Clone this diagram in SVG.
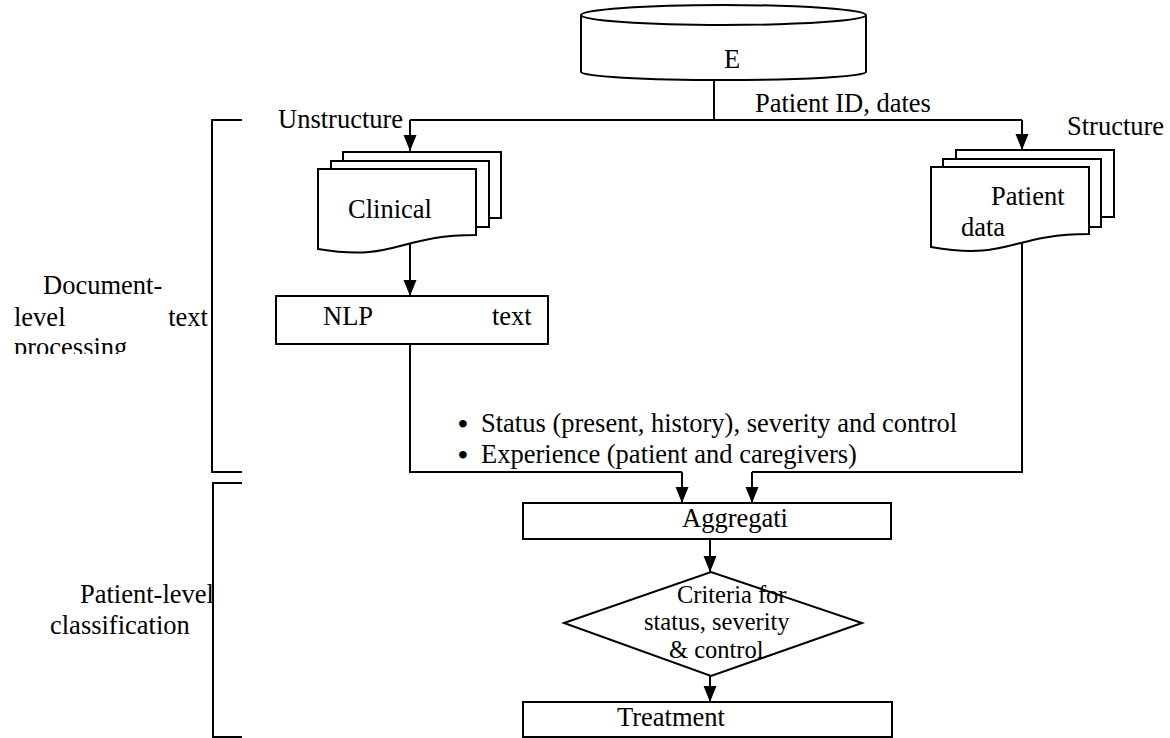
<svg xmlns="http://www.w3.org/2000/svg" width="1170" height="738" viewBox="0 0 1170 738">
<defs>
<marker id="arr" markerUnits="userSpaceOnUse" markerWidth="16" markerHeight="16" viewBox="0 0 16 16" refX="16" refY="8" orient="auto">
<path d="M0,1.5 L16,8 L0,14.5 Z" fill="#000"/>
</marker>
<clipPath id="clipProc"><rect x="0" y="330" width="220" height="24"/></clipPath>
</defs>
<style>
.s{fill:#fff;stroke:#000;stroke-width:2}
.c{fill:none;stroke:#000;stroke-width:2}
.ca{fill:none;stroke:#000;stroke-width:2;marker-end:url(#arr)}
.t{font-family:"Liberation Serif","Times New Roman",serif;font-size:26.5px;fill:#000}
.b{font-family:"Liberation Serif","Times New Roman",serif;font-size:28px;fill:#000;font-weight:bold}
.d{font-family:"Liberation Serif","Times New Roman",serif;font-size:24.5px;fill:#000}
</style>
<rect width="1170" height="738" fill="#fff"/>

<g id="connectors">
<path class="c" d="M714,80 V120"/>
<path class="c" d="M410,120 H1022"/>
<path class="ca" d="M410,120 V151"/>
<path class="ca" d="M1022,120 V150"/>
<path class="ca" d="M410,243 V296"/>
<path class="c" d="M410,344 V472 H682"/>
<path class="ca" d="M682,472 V503"/>
<path class="c" d="M1022,240 V472 H752"/>
<path class="ca" d="M752,472 V503"/>
<path class="ca" d="M710,539 V572"/>
<path class="ca" d="M710,676 V702"/>
</g>

<g id="database">
<path class="s" d="M581,15 V72 A142.5,8 0 0 0 866,72 V15"/>
<ellipse class="s" cx="723.5" cy="15" rx="142.5" ry="10"/>
<text class="t" x="724" y="68">E</text>
</g>

<g id="label-patient-id"><text class="t" x="755" y="112">Patient ID, dates</text></g>
<g id="label-unstructure"><text class="t" x="278" y="128">Unstructure</text></g>
<g id="label-structure"><text class="t" x="1067" y="135">Structure</text></g>

<g id="clinical">
<rect class="s" x="343" y="152" width="158" height="66"/>
<rect class="s" x="331" y="161" width="158" height="66"/>
<path class="s" d="M318,169 H476 V235 C397,235 397,262 318,249 Z"/>
<text class="t" x="348" y="218">Clinical</text>
</g>

<g id="patient-data">
<rect class="s" x="956" y="150" width="158" height="67"/>
<rect class="s" x="943" y="159" width="158" height="68"/>
<path class="s" d="M931,167 H1089 V234 C1010,234 1010,261 931,247 Z"/>
<text class="t" x="991" y="205">Patient</text>
<text class="t" x="961" y="236">data</text>
</g>

<g id="nlp">
<rect class="s" x="276" y="296" width="272" height="48"/>
<text class="t" x="323" y="325">NLP</text>
<text class="t" x="492" y="325">text</text>
</g>

<g id="outputs">
<text class="b" x="463" y="433" text-anchor="middle">•</text>
<text class="t" x="481" y="432">Status (present, history), severity and control</text>
<text class="b" x="463" y="464" text-anchor="middle">•</text>
<text class="t" x="481" y="463">Experience (patient and caregivers)</text>
</g>

<g id="aggregation">
<rect class="s" x="523" y="503" width="368" height="36"/>
<text class="t" x="682" y="527">Aggregati</text>
</g>

<g id="criteria">
<path class="s" d="M564,623 L711,572 L862,623 L711,676 Z"/>
<text class="d" x="677" y="603">Criteria for</text>
<text class="d" x="644" y="630">status, severity</text>
<text class="d" x="669" y="658">&amp; control</text>
</g>

<g id="treatment">
<rect class="s" x="523" y="702" width="369" height="35"/>
<text class="t" x="617" y="726">Treatment</text>
</g>

<g id="bracket-document">
<path class="c" d="M242,120 H212 V472 H242"/>
<text class="t" x="43" y="294">Document-</text>
<text class="t" x="14" y="326">level</text>
<text class="t" x="208" y="326" text-anchor="end">text</text>
<text class="t" x="14" y="356" clip-path="url(#clipProc)">processing</text>
</g>

<g id="bracket-patient">
<path class="c" d="M242,483 H213 V737 H242"/>
<text class="t" x="80" y="603">Patient-level</text>
<text class="t" x="50" y="634">classification</text>
</g>
</svg>
